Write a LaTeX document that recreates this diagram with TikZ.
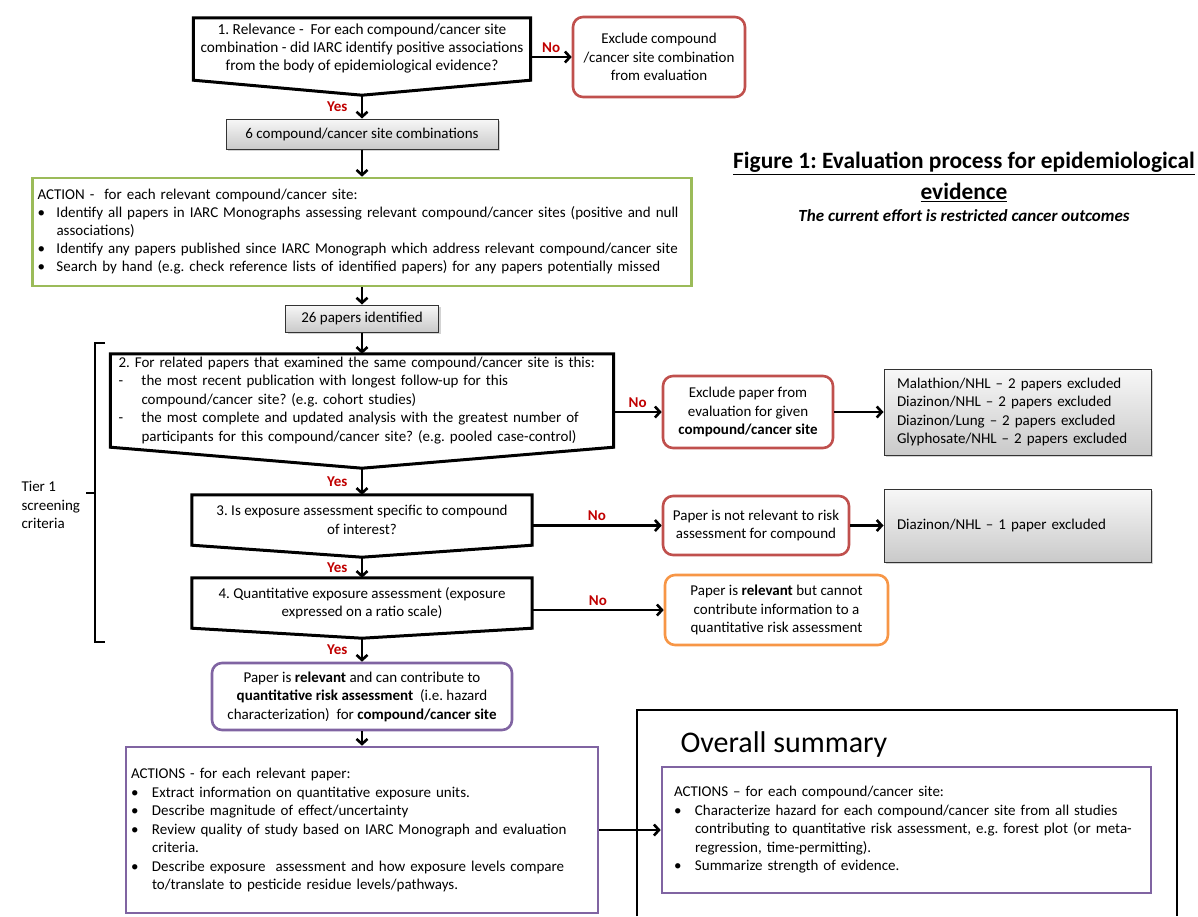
\documentclass[tikz,border=0pt]{standalone}
\usepackage{fontspec}
\setmainfont{Carlito}
\usetikzlibrary{arrows.meta,calc,shadows}
\definecolor{vermell}{HTML}{C0504D}
\definecolor{taronja}{HTML}{F79646}
\definecolor{verd}{HTML}{9BBB59}
\definecolor{lila}{HTML}{8064A2}
\definecolor{sino}{HTML}{C00000}
\frenchspacing
\newcommand{\punt}[2][19pt]{\par\noindent\hangindent=#1\hangafter=1\makebox[#1][l]{\textbullet}#2\par}
\newcommand{\guio}[1]{\par\noindent\hangindent=23pt\hangafter=1\makebox[23pt][l]{-}#1\par}
\begin{document}
\begin{tikzpicture}[x=1pt,y=-1pt,
  font=\fontsize{15pt}{18.5pt}\selectfont,
  fletxa/.style={line width=2.6pt,-{Straight Barb[length=5pt,width=11pt]}},
  pregunta/.style={align=center,inner sep=0pt},
  forma/.style={line width=3pt,line join=miter},
  exclou/.style={draw=vermell,line width=2.6pt,rounded corners=10pt,align=center,fill=white},
  gris/.style={draw=black!80,line width=1pt,top color=gray!6,bottom color=gray!42,
    drop shadow={shadow xshift=2pt,shadow yshift=-2pt,opacity=.35},align=left,inner xsep=13pt},
  resposta/.style={text=sino,font=\fontsize{15pt}{18.5pt}\selectfont\bfseries}]

\useasboundingbox (0,0) rectangle (1198,916);

% Titol
\node[font=\fontsize{23.4pt}{31pt}\selectfont\bfseries,align=center] (titol) at (964,177)
  {\underline{Figure 1: Evaluation process for epidemiological}\\\underline{evidence}};
\node[font=\fontsize{17pt}{20pt}\selectfont\bfseries\itshape] (sub) at (964,216)
  {The current effort is restricted cancer outcomes};

% Pas 1
\node[pregunta,minimum width=337pt,minimum height=62pt,font=\fontsize{15.3pt}{18pt}\selectfont] (q1) at (362,49)
  {1. Relevance -~ For each compound/cancer site\\combination - did IARC identify positive associations\\from the body of epidemiological evidence?};
\node[exclou,minimum width=172pt,minimum height=80pt] (ex1) at (659,57)
  {Exclude compound\\/cancer site combination\\from evaluation};
\node[gris,minimum width=272pt,minimum height=30pt,align=center] (c6) at (362,134)
  {6 compound/cancer site combinations};

% Accio
\node[draw=verd,line width=2.6pt,text width=649pt,inner sep=5pt,minimum height=108pt,align=left,
  font=\fontsize{15pt}{18pt}\selectfont] (acc1) at (362,232)
  {ACTION -~ for each relevant compound/cancer site:%
   \punt{Identify all papers in IARC Monographs assessing relevant compound/cancer sites (positive and null\newline associations)}%
   \punt{Identify any papers published since IARC Monograph which address relevant compound/cancer site}%
   \punt{Search by hand (e.g. check reference lists of identified papers) for any papers potentially missed}};
\node[gris,minimum width=153pt,minimum height=27pt,align=center] (c26) at (362,318.5)
  {26 papers identified};

% Criteris Tier 1
\node[pregunta,align=left,text width=487pt,minimum height=93pt,inner xsep=8pt] (q2) at (362,400.5)
  {2. For related papers that examined the same compound/cancer site is this:%
   \guio{the most recent publication with longest follow-up for this\newline compound/cancer site? (e.g. cohort studies)}%
   \guio{the most complete and updated analysis with the greatest number of\newline participants for this compound/cancer site? (e.g. pooled case-control)}};
\node[pregunta,minimum width=340pt,minimum height=50pt] (q3) at (362,520)
  {3. Is exposure assessment specific to compound\\of interest?};
\node[pregunta,minimum width=340pt,minimum height=50pt] (q4) at (362,603)
  {4. Quantitative exposure assessment (exposure\\expressed on a ratio scale)};

\foreach \n/\d in {q1/15,q2/21,q3/12,q4/10}
  \draw[forma] (\n.north west) -- (\n.north east) -- (\n.south east)
    -- ($(\n.south)+(0,\d)$) coordinate (\n-tip) -- (\n.south west) -- cycle;

\node[exclou,minimum width=170pt,minimum height=72pt] (ex2) at (748,412)
  {Exclude paper from\\evaluation for given\\\textbf{compound/cancer site}};
\node[gris,text width=241pt,minimum height=86pt] (g1) at (1017.5,412)
  {Malathion/NHL – 2 papers excluded\\Diazinon/NHL – 2 papers excluded\\Diazinon/Lung – 2 papers excluded\\Glyphosate/NHL – 2 papers excluded};
\node[exclou,minimum width=186pt,minimum height=59pt] (ex3) at (756,525.5)
  {Paper is not relevant to risk\\assessment for compound};
\node[gris,text width=241pt,minimum height=73pt] (g2) at (1017.5,525.5)
  {Diazinon/NHL – 1 paper excluded};
\node[exclou,draw=taronja,minimum width=223pt,minimum height=70pt] (ex4) at (776.5,610)
  {Paper is \textbf{relevant} but cannot\\contribute information to a\\quantitative risk assessment};

% Clau
\draw[line width=2.6pt] (105,343) -- (95,343) -- (95,642) -- (105,642);
\draw[line width=2.6pt] (95,493) -- (86,493);
\node[align=left,anchor=west] (tier) at (18,505) {Tier 1\\screening\\criteria};

% Resultat
\node[exclou,draw=lila,minimum width=300pt,minimum height=67pt] (rel) at (362,696.5)
  {Paper is \textbf{relevant} and can contribute to\\\textbf{quantitative risk assessment}~ (i.e. hazard\\characterization)~ for \textbf{compound/cancer site}};
\node[draw=lila,line width=2.6pt,align=left,text width=462pt,inner sep=5pt,minimum height=166pt] (acc2) at (362,830)
  {ACTIONS - for each relevant paper:%
   \punt[21pt]{Extract information on quantitative exposure units.}%
   \punt[21pt]{Describe magnitude of effect/uncertainty}%
   \punt[21pt]{Review quality of study based on IARC Monograph and evaluation\newline criteria.}%
   \punt[21pt]{Describe exposure~ assessment and how exposure levels compare\newline to/translate to pesticide residue levels/pathways.}};

% Resum
\draw[line width=2.6pt] (637,916) -- (637,710) -- (1177,710) -- (1177,916);
\node[font=\fontsize{30pt}{36pt}\selectfont,anchor=west] (tit2) at (677,744) {Overall summary};
\node[draw=lila,line width=2.6pt,align=left,text width=465pt,inner xsep=12pt,minimum height=126pt] (acc3) at (906.5,830)
  {ACTIONS – for each compound/cancer site:%
   \punt[21pt]{Characterize hazard for each compound/cancer site from all studies\newline contributing to quantitative risk assessment, e.g. forest plot (or meta-\newline regression, time-permitting).}%
   \punt[21pt]{Summarize strength of evidence.}};

% Fletxes
\draw[fletxa] (q1-tip) -- node[resposta,left=10pt]{Yes} (c6.north);
\draw[fletxa] (q1.east |- ex1.west) -- node[resposta,above]{No} (ex1.west);
\draw[fletxa] (c6.south) -- (acc1.north);
\draw[fletxa] (acc1.south) -- (c26.north);
\draw[fletxa] (c26.south) -- (q2.north);
\draw[fletxa] (q2-tip) -- node[resposta,left=10pt]{Yes} (q3.north);
\draw[fletxa] (q3-tip) -- node[resposta,left=10pt]{Yes} (q4.north);
\draw[fletxa] (q4-tip) -- node[resposta,left=10pt]{Yes} (rel.north);
\draw[fletxa] (q2.east |- ex2.west) -- node[resposta,above]{No} (ex2.west);
\draw[fletxa] (q3.east |- ex3.west) -- node[resposta,above]{No} (ex3.west);
\draw[fletxa] (q4.east |- ex4.west) -- node[resposta,above]{No} (ex4.west);
\draw[fletxa] (ex2.east) -- (g1.west);
\draw[fletxa] (ex3.east) -- (g2.west);
\draw[fletxa] (rel.south) -- (acc2.north);
\draw[fletxa] (acc2.east) -- (acc3.west);

\end{tikzpicture}
\end{document}
